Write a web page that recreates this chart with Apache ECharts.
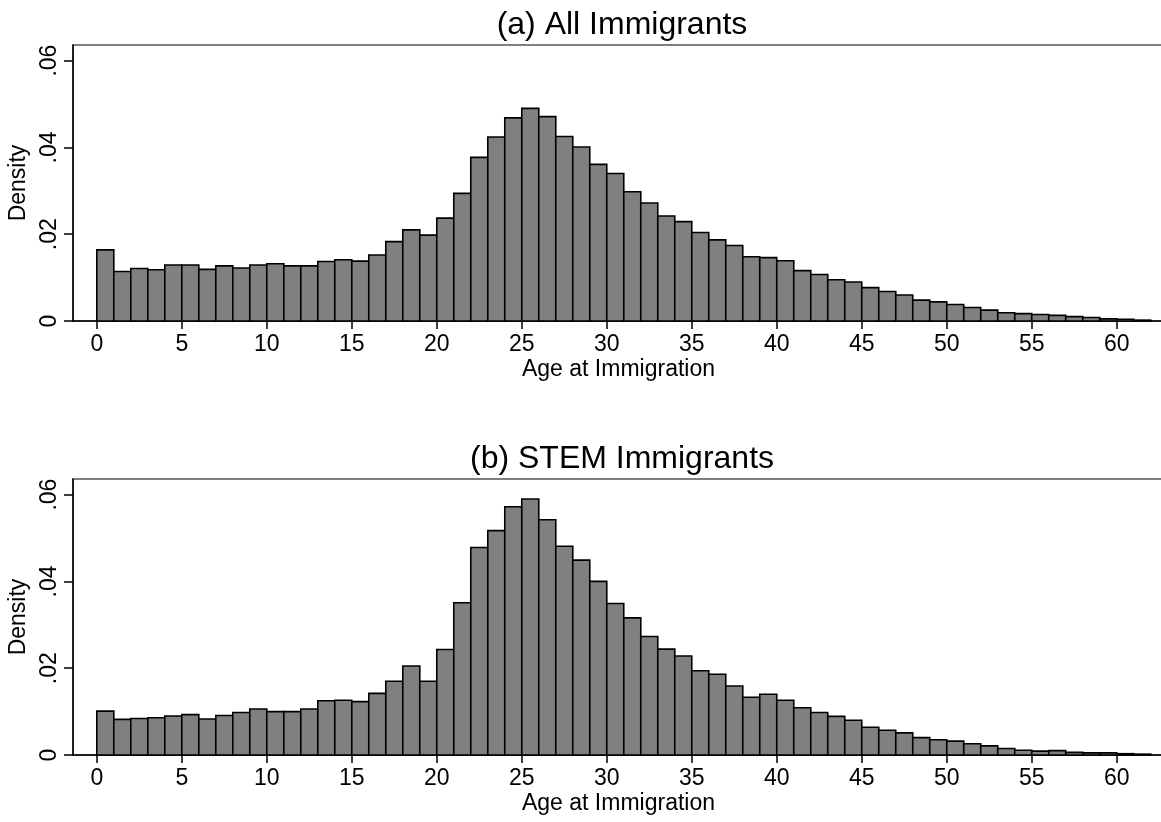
<!DOCTYPE html>
<html>
<head>
<meta charset="utf-8">
<script src="https://cdn.jsdelivr.net/npm/echarts@6/dist/echarts.min.js"></script>
<style>
  html, body { margin: 0; padding: 0; background: #ffffff; }
  #chart { width: 1161px; height: 822px; }
</style>
</head>
<body>
<div id="chart"></div>
<script>
// histogram bins: left edge of each one-year bin (age at immigration)
const binLeft = [0, 1, 2, 3, 4, 5, 6, 7, 8, 9, 10, 11, 12, 13, 14, 15, 16, 17, 18, 19,
  20, 21, 22, 23, 24, 25, 26, 27, 28, 29, 30, 31, 32, 33, 34, 35, 36, 37, 38, 39,
  40, 41, 42, 43, 44, 45, 46, 47, 48, 49, 50, 51, 52, 53, 54, 55, 56, 57, 58, 59, 60, 61];
const binWidth = 1;

// (a) All Immigrants - density per bin
const allDensity = [0.0164, 0.0114, 0.0121, 0.0118, 0.0129, 0.0129, 0.0119, 0.0127, 0.0122, 0.0129,
  0.0132, 0.0127, 0.0127, 0.0137, 0.0141, 0.0138, 0.0152, 0.0183, 0.0210, 0.0198,
  0.0237, 0.0294, 0.0377, 0.0424, 0.0468, 0.0490, 0.0471, 0.0425, 0.0401, 0.0361,
  0.0340, 0.0298, 0.0272, 0.0242, 0.0229, 0.0204, 0.0187, 0.0174, 0.0148, 0.0146,
  0.0139, 0.0116, 0.0107, 0.0095, 0.0090, 0.0077, 0.0068, 0.0060, 0.0048, 0.0044,
  0.0038, 0.0031, 0.0025, 0.0019, 0.0017, 0.0015, 0.0013, 0.0010, 0.0008, 0.0005,
  0.0004, 0.0002];

// (b) STEM Immigrants - density per bin
const stemDensity = [0.0101, 0.0082, 0.0084, 0.0086, 0.0090, 0.0093, 0.0083, 0.0091, 0.0098, 0.0106,
  0.0100, 0.0100, 0.0106, 0.0125, 0.0126, 0.0123, 0.0142, 0.0170, 0.0205, 0.0170,
  0.0243, 0.0351, 0.0478, 0.0517, 0.0572, 0.0590, 0.0542, 0.0481, 0.0449, 0.0400,
  0.0349, 0.0316, 0.0273, 0.0244, 0.0228, 0.0194, 0.0186, 0.0159, 0.0133, 0.0140,
  0.0126, 0.0109, 0.0098, 0.0089, 0.0080, 0.0064, 0.0057, 0.0051, 0.0040, 0.0035,
  0.0032, 0.0026, 0.0021, 0.0015, 0.0011, 0.0009, 0.0010, 0.0006, 0.0005, 0.0005,
  0.0003, 0.0002];

const xTicks = [0, 5, 10, 15, 20, 25, 30, 35, 40, 45, 50, 55, 60];
const yTicks = [0, 0.02, 0.04, 0.06];
const panelTitles = ['(a) All Immigrants', '(b) STEM Immigrants'];

const FONT = '"Liberation Sans", Arial, Helvetica, sans-serif';

const chart = echarts.init(document.getElementById('chart'), null, { renderer: 'canvas' });

const renderBin = (params, api) => {
  const topLeft = api.coord([api.value(0), api.value(2)]);
  const bottomRight = api.coord([api.value(1), 0]);
  return {
    type: 'rect',
    shape: {
      x: topLeft[0],
      y: topLeft[1],
      width: bottomRight[0] - topLeft[0],
      height: bottomRight[1] - topLeft[1],
    },
    style: { fill: '#808080', stroke: '#000000', lineWidth: 1.6 },
  };
};

const toBins = (values) => values.map((v, i) => [binLeft[i], binLeft[i] + binWidth, v]);

// right edge runs just past the canvas, as in the reference (no right frame visible)
const grids = [
  { left: 73, top: 45, width: 1091, height: 276 },
  { left: 73, top: 479, width: 1091, height: 276 },
];

const xAxisFor = (gridIndex) => ({
  type: 'value',
  gridIndex,
  min: -1.4,
  max: 62.78,
  name: 'Age at Immigration',
  nameLocation: 'middle',
  nameGap: 37,
  nameTextStyle: { color: '#000', fontSize: 23, fontFamily: FONT },
  splitLine: { show: false },
  axisLine: { show: true, onZero: false, lineStyle: { color: '#000', width: 1.5 } },
  axisTick: { show: true, customValues: xTicks, length: 8, lineStyle: { color: '#000', width: 1.5 } },
  axisLabel: {
    customValues: xTicks,
    color: '#000',
    fontSize: 23,
    fontFamily: FONT,
    margin: 12,
  },
});

const yAxisFor = (gridIndex) => ({
  type: 'value',
  gridIndex,
  min: 0,
  max: 0.0636,
  name: 'Density',
  nameLocation: 'middle',
  nameGap: 33,
  nameTextStyle: { color: '#000', fontSize: 23, fontFamily: FONT },
  splitLine: { show: false },
  axisLine: { show: true, onZero: false, lineStyle: { color: '#000', width: 1.5 } },
  axisTick: { show: true, customValues: yTicks, length: 9, lineStyle: { color: '#000', width: 1.5 } },
  axisLabel: {
    customValues: yTicks,
    rotate: 90,
    color: '#000',
    fontSize: 23,
    fontFamily: FONT,
    margin: 12,
    formatter: (v) => (v === 0 ? '0' : v.toFixed(2).replace(/^0/, '')),
  },
});

const option = {
  backgroundColor: '#ffffff',
  animation: false,
  title: panelTitles.map((text, i) => ({
    text,
    left: 73 + 1088 / 2,
    textAlign: 'center',
    top: grids[i].top - 41,
    textStyle: { color: '#000', fontSize: 32, fontWeight: 'normal', fontFamily: FONT },
  })),
  grid: grids.map((g) => ({
    ...g,
    outerBoundsMode: 'none',
    containLabel: false,
    show: true,
    borderColor: '#555555',
    borderWidth: 1.5,
    backgroundColor: '#ffffff',
  })),
  xAxis: [xAxisFor(0), xAxisFor(1)],
  yAxis: [yAxisFor(0), yAxisFor(1)],
  series: [
    {
      type: 'custom',
      xAxisIndex: 0,
      yAxisIndex: 0,
      renderItem: renderBin,
      encode: { x: [0, 1], y: 2 },
      data: toBins(allDensity),
    },
    {
      type: 'custom',
      xAxisIndex: 1,
      yAxisIndex: 1,
      renderItem: renderBin,
      encode: { x: [0, 1], y: 2 },
      data: toBins(stemDensity),
    },
  ],
};

chart.setOption(option);
window.addEventListener('resize', () => chart.resize());
</script>
</body>
</html>
